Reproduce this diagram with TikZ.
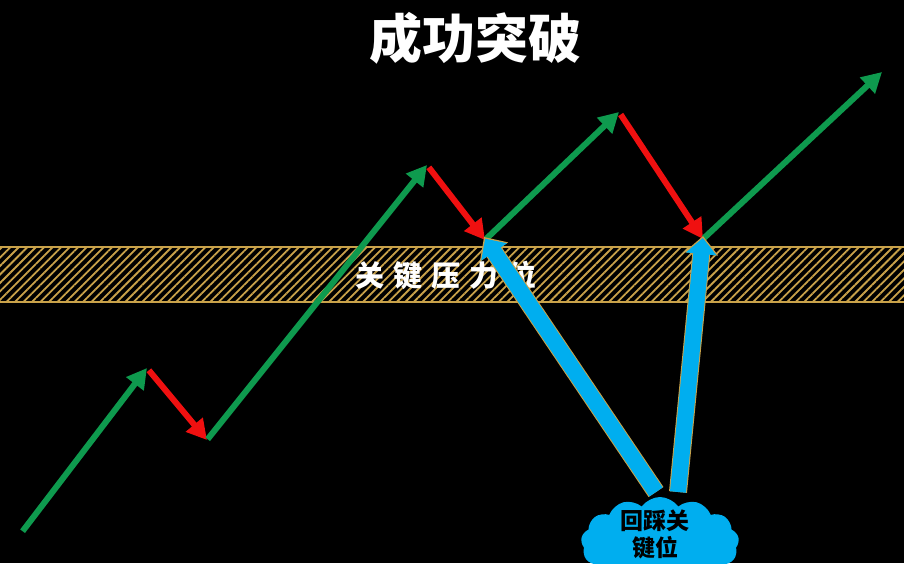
\documentclass[tikz,border=0pt]{standalone}
\usepackage{fontspec}
\newfontfamily\cjk{Noto Sans CJK SC}
\usepackage{xcolor}
\usetikzlibrary{shapes,shapes.symbols,arrows,positioning,calc,patterns.meta,arrows.meta}
\definecolor{upgreen}{HTML}{0E9A4E}
\definecolor{downred}{HTML}{F01010}
\definecolor{skyblue}{HTML}{00AEEF}
\definecolor{bandgold}{HTML}{C9A24A}

\begin{document}
\begin{tikzpicture}[x=1pt,y=-1pt,
    up/.style={draw=upgreen, line width=6pt, -{Triangle[length=20pt,width=21pt]}, shorten <=1pt},
    down/.style={draw=downred, line width=6pt, -{Triangle[length=20pt,width=21pt]}, shorten <=3pt},
    pullback/.style={line width=16pt, -{Triangle[length=16pt,width=30pt]}}]
    \fill[black] (0,0) rectangle (904,563);
    \useasboundingbox (0,0) rectangle (904,563);

    % key level band
    \fill[pattern={Lines[angle=45,distance=6pt,line width=1.8pt]}, pattern color=bandgold] (0,247) rectangle (904,302);
    \draw[bandgold, line width=1.5pt] (0,247) -- (904,247) (0,302) -- (904,302);
    \node (level) at (446,275) {\cjk\bfseries\fontsize{29}{32}\selectfont\color{white}关\hspace{9pt}键\hspace{9pt}压\hspace{9pt}力\hspace{9pt}位};

    \node (title) at (475,38) {\cjk\bfseries\fontsize{53}{58}\selectfont\color{white}成功突破};

    % price path
    \coordinate (p0) at (22,532);
    \coordinate (p1) at (147,368);
    \coordinate (p2) at (207,440);
    \coordinate (p3) at (427,165);
    \coordinate (p4) at (485,240);
    \coordinate (p5) at (619,112);
    \coordinate (p6) at (703,239);
    \coordinate (p7) at (882,72);

    \draw[up] (p0) -- (p1);
    \draw[down] (p1) -- (p2);
    \draw[up] (p2) -- (p3);
    \draw[down] (p3) -- (p4);
    \draw[up] (p4) -- (p5);
    \draw[down] (p5) -- (p6);
    \draw[up] (p6) -- (p7);

    % retest cloud
    \node (retest) [cloud, cloud puffs=13, cloud puff arc=110, aspect=2.1, fill=skyblue, minimum width=158pt, minimum height=92pt, inner sep=0pt] at (660,543) {};
    \node (retesttext) at (655,534) [align=center, font=\cjk\bfseries\fontsize{23}{27}\selectfont] {回踩关\\键位};

    \coordinate (b1) at (656,492);
    \coordinate (b2) at (678,492);
    \draw[pullback, draw=bandgold, line width=18pt, -{Triangle[length=18pt,width=33pt]}] (b1) -- ($(p4)+(-1,-3)$);
    \draw[pullback, draw=skyblue, shorten >=2pt] (b1) -- ($(p4)+(-1,-3)$);
    \draw[pullback, draw=bandgold, line width=18pt, -{Triangle[length=18pt,width=33pt]}] (b2) -- ($(p6)+(0,-3)$);
    \draw[pullback, draw=skyblue, shorten >=2pt] (b2) -- ($(p6)+(0,-3)$);

\end{tikzpicture}
\end{document}
